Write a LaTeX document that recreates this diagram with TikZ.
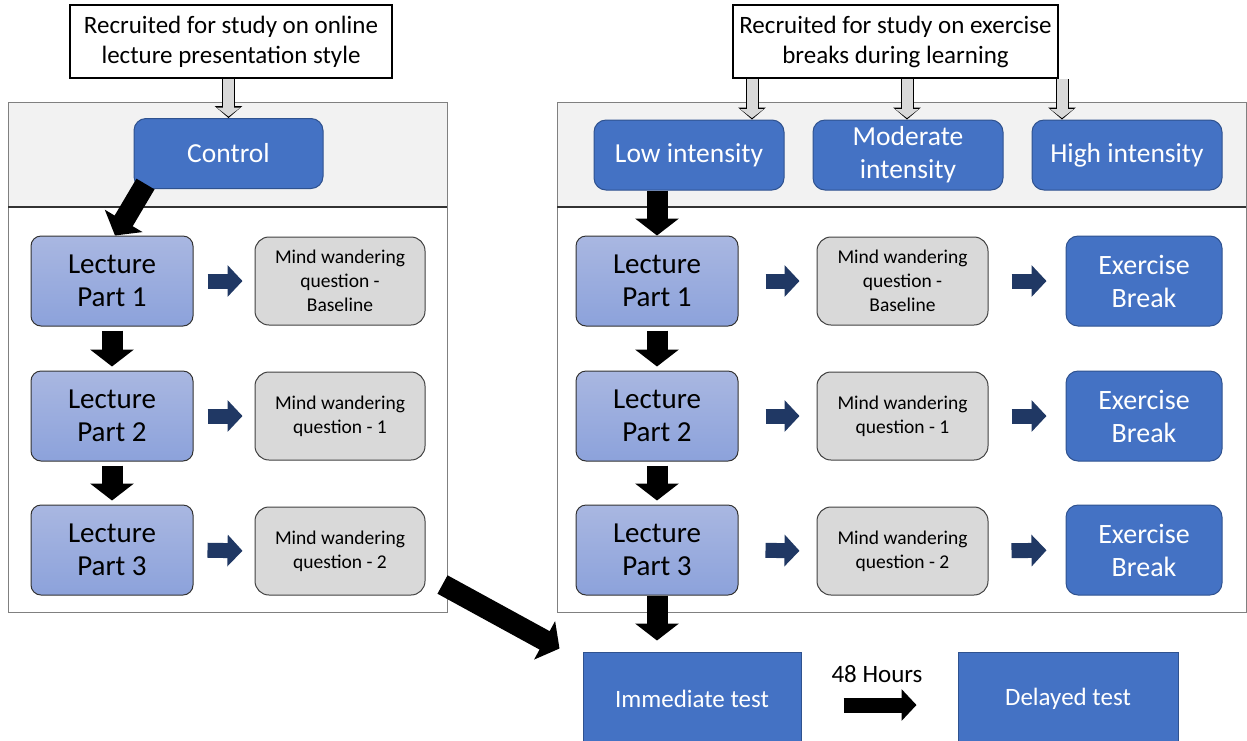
\documentclass[tikz,border=0pt]{standalone}
\usepackage{fontspec}
\setmainfont{Carlito}
\usetikzlibrary{positioning}
\usetikzlibrary{calc}
\usetikzlibrary{arrows.meta}

\definecolor{boxblue}{HTML}{4472C4}
\definecolor{boxedge}{HTML}{2F528F}
\definecolor{lectop}{HTML}{A9B7E1}
\definecolor{lecbot}{HTML}{8CA2DB}
\definecolor{mwgray}{HTML}{D9D9D9}
\definecolor{navy}{HTML}{203864}
\definecolor{panelgray}{HTML}{F2F2F2}

\begin{document}
\begin{tikzpicture}[
    x=1pt, y=-1pt,
    recruit/.style={draw, line width=2.5pt, fill=white, minimum width=322pt, minimum height=73pt, align=center, font=\fontsize{25}{30}\selectfont},
    group/.style={draw=boxedge, line width=1pt, fill=boxblue, text=white, rounded corners=12pt, minimum width=190pt, minimum height=70pt, align=center, font=\fontsize{27.5}{33}\selectfont},
    lecture/.style={draw=black!80, line width=1pt, top color=lectop, bottom color=lecbot, rounded corners=10pt, minimum width=162pt, minimum height=90pt, align=center, font=\fontsize{29}{33}\selectfont},
    mind/.style={draw=black!75, line width=1pt, fill=mwgray, rounded corners=14pt, minimum width=170pt, minimum height=88pt, align=center, font=\fontsize{19.5}{24}\selectfont},
    exbreak/.style={group, minimum width=156pt, minimum height=90pt, font=\fontsize{28}{33}\selectfont},
    test/.style={draw=boxedge, line width=1pt, fill=boxblue, text=white, minimum width=218pt, minimum height=94pt, font=\fontsize{25}{30}\selectfont},
    fat/.style={draw, line width=21pt, -{Triangle[length=17pt, width=43pt]}},
    small/.style={draw=navy, line width=15pt, -{Triangle[length=15pt, width=31pt]}},
    hollow/.style={draw=mwgray, line width=11pt, shorten >=1.5pt, -{Triangle[length=9pt, width=23pt]},
        preaction={draw=black, line width=13pt, shorten >=0pt, -{Triangle[length=12pt, width=27pt]}}},
    panel/.style={draw=black!50, line width=1pt}
]
\useasboundingbox (0,0) rectangle (1247,740);

% Group panels
\fill[panelgray] (8,102) rectangle (447,207);
\draw[panel] (8,102) rectangle (447,612);
\draw[black!80, line width=1.2pt] (8,207) -- (447,207);
\fill[panelgray] (557,102) rectangle (1246,207);
\draw[panel] (557,102) rectangle (1246,612);
\draw[black!80, line width=1.2pt] (557,207) -- (1246,207);

% Recruitment boxes
\node[recruit] (recL) at (231,41.5) {Recruited for study on online\\lecture presentation style};
\node[recruit, minimum width=325pt] (recR) at (895.5,41.5) {Recruited for study on exercise\\breaks during learning};

% Conditions
\node[group, minimum width=189pt] (control) at (228.5,153.5) {Control};
\node[group] (low) at (689,155) {Low intensity};
\node[group] (mod) at (908,155) {Moderate\\intensity};
\node[group] (high) at (1127,155) {High intensity};

% Left column
\node[lecture] (lecL1) at (112,281) {Lecture\\Part 1};
\node[lecture] (lecL2) at (112,416) {Lecture\\Part 2};
\node[lecture] (lecL3) at (112,550) {Lecture\\Part 3};
\node[mind] (mwL1) at (340,281) {Mind wandering\\question -\\Baseline};
\node[mind] (mwL2) at (340,416) {Mind wandering\\question - 1};
\node[mind] (mwL3) at (340,551) {Mind wandering\\question - 2};

% Right column
\node[lecture] (lecR1) at (657,281) {Lecture\\Part 1};
\node[lecture] (lecR2) at (657,416) {Lecture\\Part 2};
\node[lecture] (lecR3) at (657,550) {Lecture\\Part 3};
\node[mind, minimum width=171pt] (mwR1) at (902.5,281) {Mind wandering\\question -\\Baseline};
\node[mind, minimum width=171pt] (mwR2) at (902.5,416) {Mind wandering\\question - 1};
\node[mind, minimum width=171pt] (mwR3) at (902.5,551) {Mind wandering\\question - 2};
\node[exbreak] (exR1) at (1144,281) {Exercise\\Break};
\node[exbreak] (exR2) at (1144,416) {Exercise\\Break};
\node[exbreak] (exR3) at (1144,550) {Exercise\\Break};

% Tests
\node[test] (immed) at (692,699) {Immediate test};
\node[test, minimum width=220pt] (delayed) at (1068,699) {Delayed test};
\node[font=\fontsize{25}{30}\selectfont] (hours) at (877,674) {48 Hours};

% Arrows on the left
\draw[hollow] (recL.south -| control.north) -- (control.north);
\draw[fat] ([shift={(12,-5)}]control.south west) -- ([xshift=3pt]lecL1.north);
\draw[fat, shorten <=4pt, shorten >=4pt] (lecL1.south) -- (lecL2.north);
\draw[fat, shorten <=4pt, shorten >=4pt] (lecL2.south) -- (lecL3.north);
\draw[small, shorten <=14pt, shorten >=12pt] (lecL1.east) -- (mwL1.west);
\draw[small, shorten <=14pt, shorten >=12pt] (lecL2.east) -- (mwL2.west);
\draw[small, shorten <=14pt, shorten >=12pt] (lecL3.east) -- (mwL3.west);
\draw[fat] ([shift={(17,-11)}]mwL3.south east) -- ([shift={(-23,-3)}]immed.north west);

% Arrows on the right
\draw[hollow] ([xshift=-143.5pt]recR.south) -- ([xshift=63pt]low.north);
\draw[hollow] ([xshift=11.5pt]recR.south) -- ([xshift=-1pt]mod.north);
\draw[hollow] ([xshift=166.5pt]recR.south) -- ([xshift=-65pt]high.north);
\draw[fat] (low.south -| lecR1.north) -- (lecR1.north);
\draw[fat, shorten <=4pt, shorten >=4pt] (lecR1.south) -- (lecR2.north);
\draw[fat, shorten <=4pt, shorten >=4pt] (lecR2.south) -- (lecR3.north);
\draw[fat, shorten >=11pt] (lecR3.south) -- (immed.north -| lecR3.south);
\draw[small, shorten <=27pt, shorten >=17pt] (lecR1.east) -- (mwR1.west);
\draw[small, shorten <=27pt, shorten >=17pt] (lecR2.east) -- (mwR2.west);
\draw[small, shorten <=27pt, shorten >=17pt] (lecR3.east) -- (mwR3.west);
\draw[small, shorten <=23pt, shorten >=19pt] (mwR1.east) -- (exR1.west);
\draw[small, shorten <=23pt, shorten >=19pt] (mwR2.east) -- (exR2.west);
\draw[small, shorten <=23pt, shorten >=19pt] (mwR3.east) -- (exR3.west);

% Delay between tests
\draw[small, draw=black, shorten <=42pt, shorten >=41pt] ([yshift=-6pt]immed.east) -- ([yshift=-6pt]delayed.west);

\end{tikzpicture}
\end{document}
